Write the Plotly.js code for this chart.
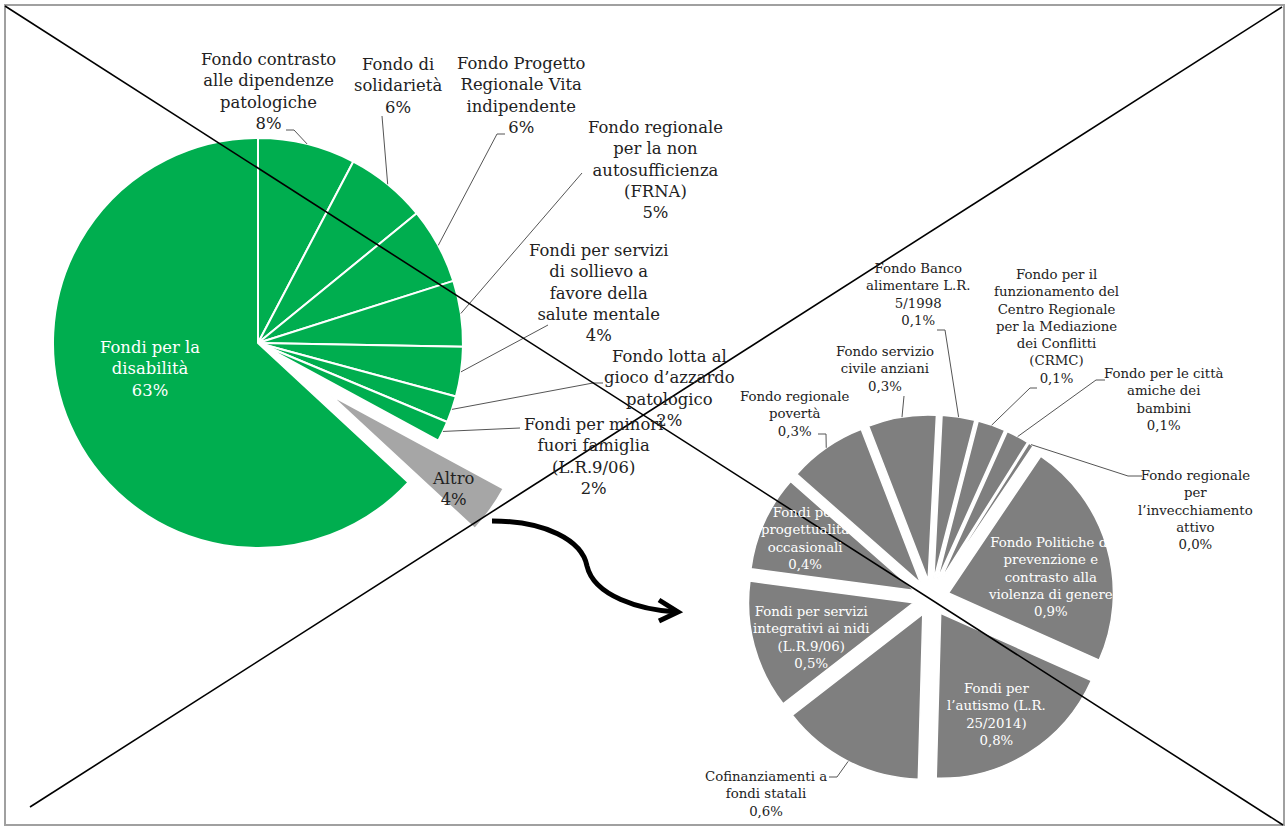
<!DOCTYPE html>
<html>
<head>
<meta charset="utf-8">
<script src="https://cdn.plot.ly/plotly-3.0.1.min.js"></script>
<style>
  html, body { margin: 0; padding: 0; background: #ffffff; }
  #chart { width: 1287px; height: 827px; }
</style>
</head>
<body>
<div id="chart"></div>
<script>
// ---------------- DATA ----------------
const mainLabels = [
  "Fondo contrasto alle dipendenze patologiche",
  "Fondo di solidarietà",
  "Fondo Progetto Regionale Vita indipendente",
  "Fondo regionale per la non autosufficienza (FRNA)",
  "Fondi per servizi di sollievo a favore della salute mentale",
  "Fondo lotta al gioco d’azzardo patologico",
  "Fondi per minori fuori famiglia (L.R.9/06)",
  "Altro",
  "Fondi per la disabilità"
];
const mainValues = [7.7, 6.4, 6.0, 5.2, 3.9, 2.1, 1.6, 4.0, 63.1];

const subLabels = [
  "Fondo Politiche di prevenzione e contrasto alla violenza di genere",
  "Fondi per l’autismo (L.R. 25/2014)",
  "Cofinanziamenti a fondi statali",
  "Fondi per servizi integrativi ai nidi (L.R.9/06)",
  "Fondi per progettualità occasionali",
  "Fondo regionale povertà",
  "Fondo servizio civile anziani",
  "Fondo Banco alimentare L.R. 5/1998",
  "Fondo per il funzionamento del Centro Regionale per la Mediazione dei Conflitti (CRMC)",
  "Fondo per le città amiche dei bambini",
  "Fondo regionale per l’invecchiamento attivo"
];
const subValues = [0.90, 0.76, 0.57, 0.51, 0.38, 0.31, 0.27, 0.13, 0.11, 0.09, 0.02];

// ---------------- LAYOUT / STYLE ----------------
const W = 1287, H = 827;
const GREEN = "#00ae4f", ALTRO_GREY = "#a6a6a6", SUB_GREY = "#7f7f7f";
const FONT = "DejaVu Serif";
const BIG_FONT = 16.4, SUB_FONT = 13.3;
const BIG = {cx: 258, cy: 343, r: 205};
const ALTRO_IDX = 7;
const ALTRO = {r: 197, shift: 89};
const SUB = {cx: 931, cy: 598, r: 165, pull: 0.11, rotation: 34};

const px = x => x / W;
const py = y => 1 - y / H;

function midAngles(values, rotation) {
  const total = values.reduce((a, b) => a + b, 0);
  let acc = 0;
  return values.map(v => { const a = rotation + (acc + v / 2) / total * 360; acc += v; return a; });
}
function polar(cx, cy, R, deg) {
  const t = deg * Math.PI / 180;
  return [cx + R * Math.sin(t), cy - R * Math.cos(t)];
}
function wrap(name, counts) {
  const w = name.split(" ");
  const out = []; let k = 0;
  counts.forEach(n => { out.push(w.slice(k, k + n).join(" ")); k += n; });
  return out.join("<br>");
}
const fmtMain = v => Math.round(v) + "%";
const fmtSub = v => v.toFixed(1).replace(".", ",") + "%";

const mainMid = midAngles(mainValues, 0);
const subMid = midAngles(subValues, SUB.rotation);

// Altro (exploded) centre
const altroC = polar(BIG.cx, BIG.cy, ALTRO.shift, mainMid[ALTRO_IDX]);

function domainFor(cx, cy, half) {
  return {x: [px(cx - half), px(cx + half)], y: [py(cy + half), py(cy - half)]};
}

const traceMain = {
  type: "pie", values: mainValues, labels: mainLabels, sort: false, direction: "clockwise", rotation: 0,
  textinfo: "none", hoverinfo: "label+percent",
  marker: {
    colors: mainValues.map((v, i) => i === ALTRO_IDX ? "rgba(0,0,0,0)" : GREEN),
    line: {color: "#ffffff", width: mainValues.map((v, i) => i === ALTRO_IDX ? 0 : 2)}
  },
  domain: domainFor(BIG.cx, BIG.cy, BIG.r), showlegend: false
};
const traceAltro = {
  type: "pie", values: mainValues, labels: mainLabels, sort: false, direction: "clockwise", rotation: 0,
  textinfo: "none", hoverinfo: "skip",
  marker: {
    colors: mainValues.map((v, i) => i === ALTRO_IDX ? ALTRO_GREY : "rgba(0,0,0,0)"),
    line: {color: "#ffffff", width: mainValues.map((v, i) => i === ALTRO_IDX ? 2 : 0)}
  },
  domain: domainFor(altroC[0], altroC[1], ALTRO.r), showlegend: false
};
const traceSub = {
  type: "pie", values: subValues, labels: subLabels, sort: false, direction: "clockwise", rotation: SUB.rotation,
  textinfo: "none", hoverinfo: "label+percent",
  pull: subValues.map(() => SUB.pull),
  marker: {colors: subValues.map(() => SUB_GREY), line: {color: "#ffffff", width: 1.5}},
  domain: domainFor(SUB.cx, SUB.cy, SUB.r * (1 + SUB.pull)), showlegend: false
};

// label placement: [index, x, y, words-per-line, color, leader start, leader elbow]
const mainLabelPos = [
  [0, 268, 91, [2, 2, 1], "#222", [286, 130], [294, 130]],
  [1, 398, 86, [2, 1], "#222", [382, 116], null],
  [2, 521, 95, [2, 2, 1], "#222", [505, 134], [497, 134]],
  [3, 655, 170, [2, 3, 1, 1], "#222", [582, 173], null],
  [4, 598, 293, [3, 3, 2, 2], "#222", [548, 325], null],
  [5, 669, 389, [3, 2, 1], "#222", [603, 383], [593, 383]],
  [6, 593, 456, [3, 2, 1], "#222", [520, 428], null],
  [7, 453, 489, [1], "#222", null, null],
  [8, 150, 369, [3, 1], "#ffffff", null, null]
];
const subLabelPos = [
  [0, 1050, 577, [3, 2, 2, 3], "#ffffff", null, null],
  [1, 996, 714, [2, 2, 1], "#ffffff", null, null],
  [2, 766, 794, [2, 2], "#222", [829, 777], [837, 777]],
  [3, 811, 637, [3, 3, 1], "#ffffff", null, null],
  [4, 805, 538, [2, 1, 1], "#ffffff", null, null],
  [5, 795, 414, [2, 1], "#222", [818, 434], [826, 434]],
  [6, 885, 369, [2, 2], "#222", [904, 396], null],
  [7, 918, 294, [2, 2, 1], "#222", [937, 330], [945, 330]],
  [8, 1056, 326, [3, 2, 2, 3, 2, 1], "#222", [1037, 388], [1030, 388]],
  [9, 1164, 399, [4, 2, 1], "#222", [1105, 380], [1096, 380]],
  [10, 1195, 510, [2, 1, 1, 1], "#222", [1142, 476], [1128, 476]]
];

const annotations = [];
const shapes = [];
const LEADER = {color: "#555555", width: 1};

function leader(start, elbow, end) {
  let d = "M" + px(start[0]) + "," + py(start[1]);
  if (elbow) d += " L" + px(elbow[0]) + "," + py(elbow[1]);
  d += " L" + px(end[0]) + "," + py(end[1]);
  shapes.push({type: "path", xref: "paper", yref: "paper", path: d, line: LEADER});
}

mainLabelPos.forEach(([i, x, y, counts, color, s, e]) => {
  annotations.push({
    xref: "paper", yref: "paper", x: px(x), y: py(y), xanchor: "center", yanchor: "middle",
    showarrow: false, align: "center",
    text: wrap(mainLabels[i], counts) + "<br>" + fmtMain(mainValues[i]),
    font: {family: FONT, size: BIG_FONT, color: color}
  });
  if (s) leader(s, e, polar(BIG.cx, BIG.cy, BIG.r, mainMid[i]));
});
subLabelPos.forEach(([i, x, y, counts, color, s, e]) => {
  annotations.push({
    xref: "paper", yref: "paper", x: px(x), y: py(y), xanchor: "center", yanchor: "middle",
    showarrow: false, align: "center",
    text: wrap(subLabels[i], counts) + "<br>" + fmtSub(subValues[i]),
    font: {family: FONT, size: SUB_FONT, color: color}
  });
  if (s) leader(s, e, polar(SUB.cx, SUB.cy, SUB.r * (1 + SUB.pull), subMid[i]));
});

// frame, crossing lines, connecting arrow
shapes.push({type: "rect", xref: "paper", yref: "paper", x0: px(5), y0: py(5), x1: px(1284), y1: py(825),
  line: {color: "#a0a0a0", width: 2}});
shapes.push({type: "line", xref: "paper", yref: "paper", x0: px(5), y0: py(6), x1: px(1283), y1: py(825),
  line: {color: "#000000", width: 1.6}});
shapes.push({type: "line", xref: "paper", yref: "paper", x0: px(30), y0: py(807), x1: px(1282), y1: py(7),
  line: {color: "#000000", width: 1.6}});
const P = (x, y) => px(x) + "," + py(y);
shapes.push({type: "path", xref: "paper", yref: "paper",
  path: "M" + P(492, 521) + " C" + P(545, 521) + " " + P(582, 540) + " " + P(587, 566) +
        " C" + P(594, 596) + " " + P(640, 610) + " " + P(677, 612),
  line: {color: "#000000", width: 5}});
shapes.push({type: "path", xref: "paper", yref: "paper",
  path: "M" + P(659, 600) + " L" + P(678, 612) + " L" + P(659, 621),
  line: {color: "#000000", width: 5}});

const layout = {
  width: W, height: H,
  margin: {l: 0, r: 0, t: 0, b: 0, pad: 0},
  paper_bgcolor: "#ffffff", plot_bgcolor: "#ffffff",
  showlegend: false,
  annotations: annotations,
  shapes: shapes
};

Plotly.newPlot("chart", [traceMain, traceAltro, traceSub], layout, {displayModeBar: false, staticPlot: true});
</script>
</body>
</html>
